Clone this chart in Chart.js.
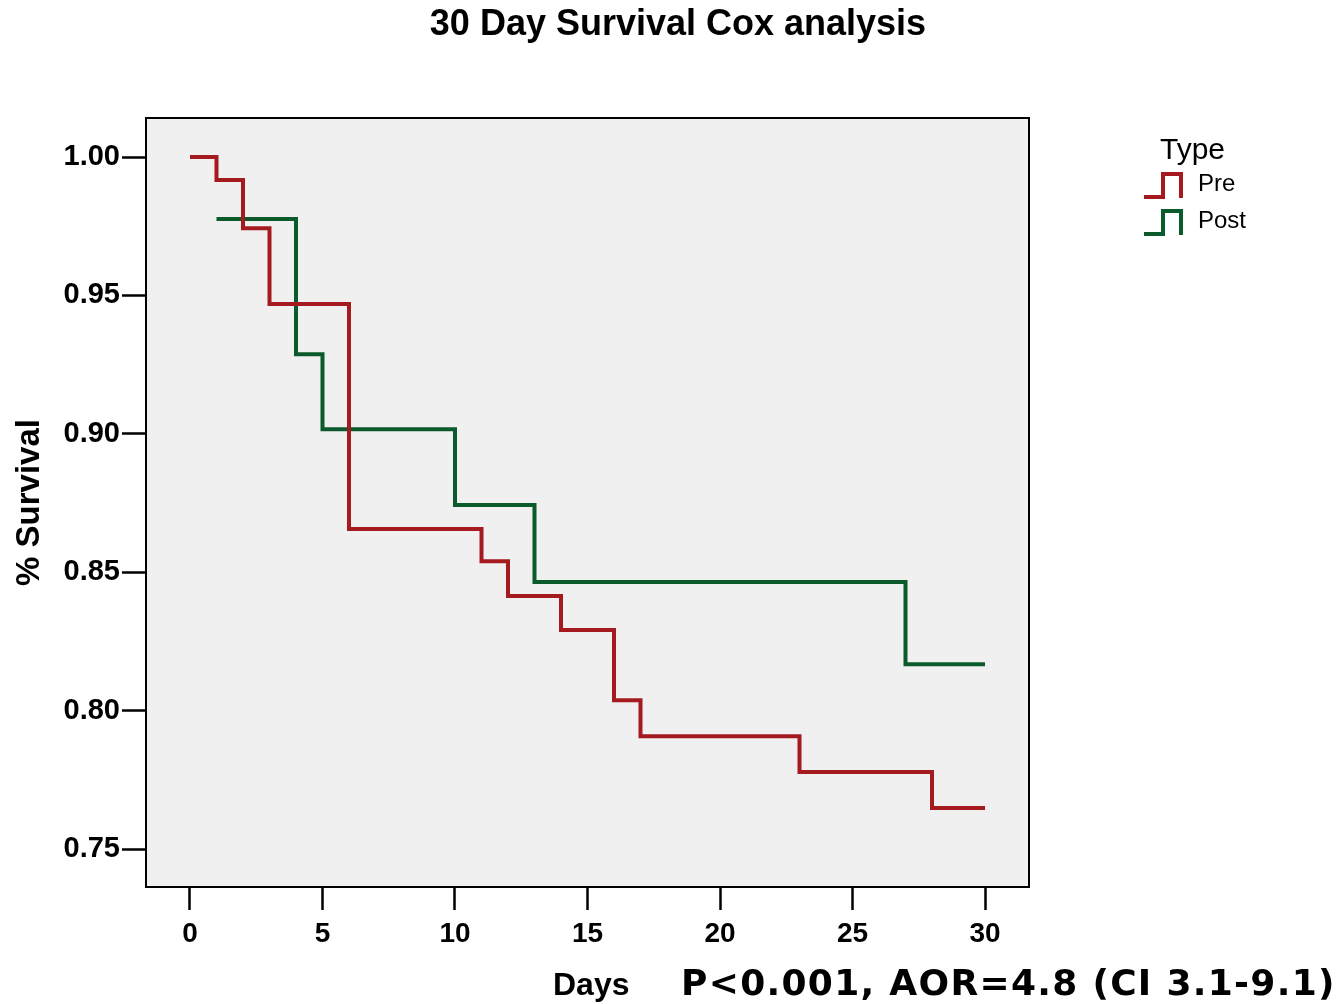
<!DOCTYPE html>
<html>
<head>
<meta charset="utf-8">
<script src="https://cdn.jsdelivr.net/npm/chart.js@4.4.1/dist/chart.umd.min.js"></script>
<style>
  body { margin: 0; background: #fff; }
  #wrap { position: relative; width: 1342px; height: 1004px; font-family: "Liberation Sans", Arial, sans-serif; }
  #chart { position: absolute; left: 0; top: 0; }
  .title { position: absolute; left: 0; width: 1356px; top: 2px; text-align: center; font-weight: bold; font-size: 36px; }
  .legend { position: absolute; left: 1143px; top: 132px; }
  .legend .head { position: absolute; left: 17px; top: 0; font-size: 30px; white-space: nowrap; }
  .legend .row { position: absolute; left: 0; white-space: nowrap; }
  .legend .row svg { position: absolute; left: 0; top: 0; }
  .legend .row span { position: absolute; left: 55px; top: -3px; font-size: 24px; }
  .days { position: absolute; left: 553px; top: 966px; font-family: "Liberation Sans Narrow", "Liberation Sans", sans-serif; font-weight: bold; font-size: 32px; }
  .pval { position: absolute; left: 681px; top: 962px; font-family: "DejaVu Sans", sans-serif; font-weight: bold; font-size: 36px; letter-spacing: 1.3px; white-space: nowrap; }
</style>
</head>
<body>
<div id="wrap">
  <canvas id="chart" width="1342" height="1004"></canvas>
  <div class="title">30 Day Survival Cox analysis</div>
  <div class="legend">
    <div class="head">Type</div>
    <div class="row" style="top:40px">
      <svg width="45" height="30"><path d="M1 25 H20 V2 H38 V26" fill="none" stroke="#a51a1f" stroke-width="4"/></svg>
      <span>Pre</span>
    </div>
    <div class="row" style="top:77px">
      <svg width="45" height="30"><path d="M1 25 H20 V2 H38 V26" fill="none" stroke="#0b5a2c" stroke-width="4"/></svg>
      <span>Post</span>
    </div>
  </div>
  <div class="days">Days</div>
  <div class="pval">P&lt;0.001, AOR=4.8 (CI 3.1-9.1)</div>
</div>
<script>
// survival steps (day of event, survival after it)
const preDays  = [0, 1, 2, 3, 6, 11, 12, 14, 16, 17, 23, 28, 30];
const preSurv  = [1.000, 0.9917, 0.9743, 0.9469, 0.8656, 0.8540, 0.8414, 0.8291, 0.8038, 0.7908, 0.7778, 0.7648, 0.7648];
const postDays = [1, 4, 5, 10, 13, 27, 30];
const postSurv = [0.9776, 0.9288, 0.9017, 0.8743, 0.8465, 0.8168, 0.8168];

const xTicks = [0, 5, 10, 15, 20, 25, 30];
const yTicks = [0.75, 0.80, 0.85, 0.90, 0.95, 1.00];

const RED = '#a51a1f', GREEN = '#0b5a2c';

const toPoints = (xs, ys) => xs.map((x, i) => ({x: x, y: ys[i]}));

// grey plot background and frame
const plotFrame = {
  id: 'plotFrame',
  beforeDatasetsDraw(chart){
    const a = chart.chartArea, ctx = chart.ctx;
    ctx.save();
    ctx.fillStyle = '#f0f0f0';
    ctx.fillRect(a.left, a.top, a.right - a.left, a.bottom - a.top);
    ctx.restore();
  },
  afterDatasetsDraw(chart){
    const a = chart.chartArea, ctx = chart.ctx;
    ctx.save();
    ctx.strokeStyle = '#000';
    ctx.lineWidth = 2;
    ctx.strokeRect(a.left, a.top, a.right - a.left, a.bottom - a.top);
    ctx.restore();
  }
};

new Chart(document.getElementById('chart').getContext('2d'), {
  type: 'line',
  data: {
    datasets: [
      // 'before' in Chart.js = horizontal first, then drop
      { label: 'Pre', data: toPoints(preDays, preSurv), borderColor: RED, borderWidth: 4, stepped: 'before', pointRadius: 0, fill: false },
      { label: 'Post', data: toPoints(postDays, postSurv), borderColor: GREEN, borderWidth: 4, stepped: 'before', pointRadius: 0, fill: false }
    ]
  },
  options: {
    responsive: false,
    animation: false,
    layout: { padding: { left: 0, right: 313, top: 118, bottom: 0 } },
    plugins: { legend: { display: false }, title: { display: false }, tooltip: { enabled: false } },
    scales: {
      x: {
        type: 'linear',
        min: -1.66, max: 31.66,
        afterBuildTicks: s => { s.ticks = xTicks.map(v => ({value: v})); },
        afterFit: s => { s.height = 117; },
        grid: { drawOnChartArea: false, drawTicks: true, tickLength: 23, tickColor: '#000', tickWidth: 2.5 },
        border: { display: false },
        ticks: { color: '#000', padding: 7, maxRotation: 0, font: { family: 'Liberation Sans', weight: 'bold', size: 28 } }
      },
      y: {
        min: 0.7363, max: 1.0141,
        afterBuildTicks: s => { s.ticks = yTicks.map(v => ({value: v})); },
        afterFit: s => { s.width = 146; },
        grid: { drawOnChartArea: false, drawTicks: true, tickLength: 24, tickColor: '#000', tickWidth: 2.5 },
        border: { display: false },
        ticks: { color: '#000', padding: 2, callback: v => v.toFixed(2), font: { family: 'Liberation Sans', weight: 'bold', size: 29 } },
        title: { display: true, text: '% Survival', color: '#000', padding: { top: 10, bottom: 0 }, font: { family: 'Liberation Sans', weight: 'bold', size: 33 } }
      }
    }
  },
  plugins: [plotFrame]
});
</script>
</body>
</html>
